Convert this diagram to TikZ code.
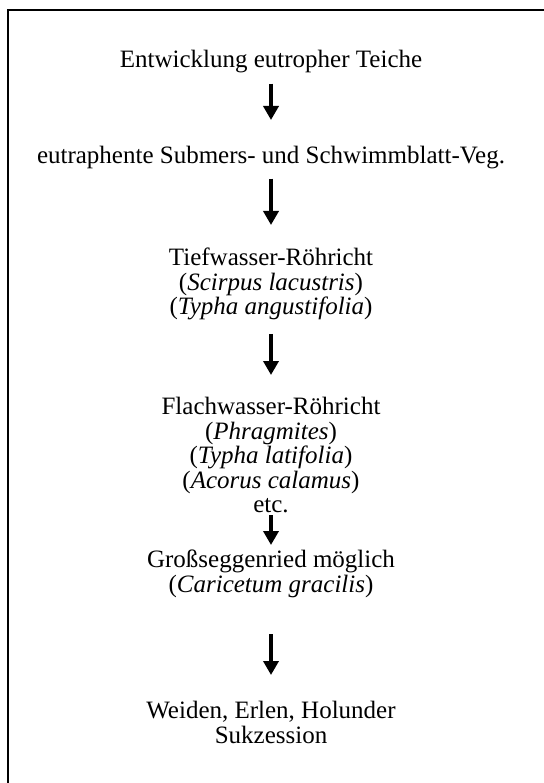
\documentclass[tikz,border=0pt]{standalone}
\usepackage{fontspec}
\setmainfont{Liberation Serif}
\usepackage{tikz}
\usetikzlibrary{arrows.meta,positioning}

\begin{document}
\begin{tikzpicture}[x=1pt,y=1pt,
  stage/.style={anchor=north,align=center,inner sep=0pt,font=\fontsize{25}{24.5}\selectfont},
  arr/.style={line width=4.6pt,-{Triangle[width=15pt,length=14pt]}}]
  \useasboundingbox (0,0) rectangle (543,-783);
  % frame (runs off the right and bottom edge)
  \draw[line width=2pt] (7.5,-10.5) rectangle (580,-820);
  % stages
  \node[stage] (teich) at (271,-50) {Entwicklung eutropher Teiche};
  \node[stage] (submers) at (271,-146) {eutraphente Submers- und Schwimmblatt-Veg.};
  \node[stage] (tief) at (271,-248) {Tiefwasser-Röhricht\\(\textit{Scirpus lacustris})\\(\textit{Typha angustifolia})};
  \node[stage] (flach) at (271,-397) {Flachwasser-Röhricht\\(\textit{Phragmites})\\(\textit{Typha latifolia})\\(\textit{Acorus calamus})\\etc.};
  \node[stage] (segge) at (271,-550) {Großseggenried möglich\\(\textit{Caricetum gracilis})};
  \node[stage] (weide) at (271,-701) {Weiden, Erlen, Holunder\\Sukzession};
  % arrows
  \draw[arr,shorten <=10.5pt,shorten >=26pt] (teich.south) -- (submers.north);
  \draw[arr,shorten <=9.5pt,shorten >=23pt] (submers.south) -- (tief.north);
  \draw[arr,shorten <=13.5pt,shorten >=22pt] (tief.south) -- (flach.north);
  \draw[arr,shorten <=2pt,shorten >=5pt] (flach.south) -- (segge.north);
  \draw[arr,shorten <=36.5pt,shorten >=26pt] (segge.south) -- (weide.north);
\end{tikzpicture}
\end{document}
